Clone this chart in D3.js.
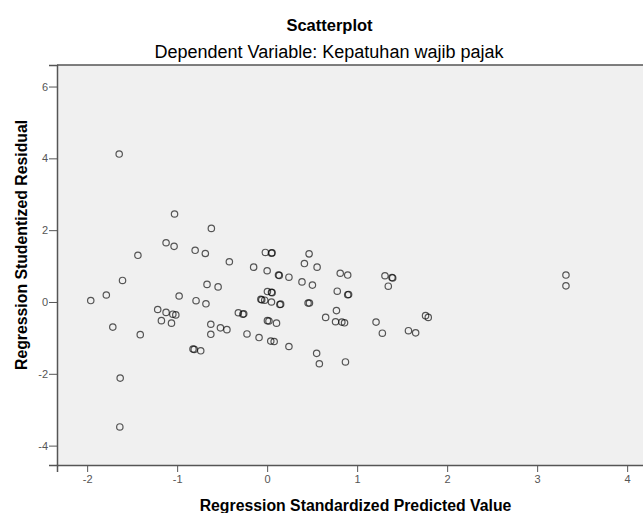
<!DOCTYPE html>
<html lang="en">
<head>
  <meta charset="UTF-8">
  <title>Scatterplot</title>
  <script src="https://cdn.jsdelivr.net/npm/d3@7"></script>
</head>
<style>
  :root {
    --text-color: #000000;
    --tick-color: #555555;
    --plot-bg: #F0F0F0;
  }

  body {
    margin: 0;
    background-color: #ffffff;
  }

  * {
    font-family: "Liberation Sans", Arial, sans-serif;
  }

  .axis text {
    font-size: 11px;
    fill: var(--tick-color);
  }

  .axis line, .axis path {
    stroke: #555555;
  }

  .axislabel {
    font-size: 15.8px;
    font-weight: bold;
    fill: var(--text-color);
  }

  .figuretitle {
    font-size: 16.5px;
    font-weight: bold;
    fill: var(--text-color);
  }

  .subtitle {
    font-size: 18px;
    fill: var(--text-color);
  }
</style>
<body>
  <div id="my_dataviz"></div>

  <script>
    // ## Data
    const predictedValues = [
      -1.644, -1.029, -0.620, -1.123, -1.034, -0.800, -0.687, -0.420, -0.150, -1.436,
      -1.607, -0.668, -0.545, -1.960, -1.787, -1.715, -1.410, -0.978, -0.790, -0.680,
      -1.216, -1.123, -1.048, -1.015, -1.175, -1.063, -0.626, -0.519, -0.447, -0.626,
      -0.224, -0.090, -0.320, -0.260, -0.270, -0.824, -0.810, -0.738, -1.633, -1.637,
      -0.020, 0.048, 0.055, 0.466, 0.414, 0.555, 0.000, 0.126, 0.135, 0.242,
      0.387, 0.503, 0.812, 0.895, 1.309, 1.387, 1.395, 1.346, 0.003, 0.048,
      0.055, 0.779, 0.895, 0.905, -0.070, -0.060, -0.027, 0.048, 0.141, 0.150,
      0.455, 0.470, 0.770, 0.650, 1.760, 1.790, 1.210, 0.760, 0.830, 0.860,
      1.280, 1.570, 1.650, 0.003, 0.020, 0.104, 0.040, 0.078, 0.242, 0.550,
      0.580, 0.870, 3.320, 3.320
    ];
    const residualValues = [
      4.12, 2.45, 2.05, 1.65, 1.55, 1.44, 1.35, 1.12, 0.97, 1.30,
      0.60, 0.49, 0.42, 0.04, 0.195, -0.70, -0.91, 0.167, 0.036, -0.05,
      -0.21, -0.29, -0.34, -0.36, -0.52, -0.59, -0.62, -0.72, -0.77, -0.90,
      -0.89, -0.99, -0.30, -0.33, -0.34, -1.31, -1.32, -1.36, -2.12, -3.48,
      1.38, 1.36, 1.37, 1.34, 1.07, 0.97, 0.87, 0.75, 0.74, 0.69,
      0.56, 0.47, 0.80, 0.75, 0.73, 0.68, 0.67, 0.44, 0.29, 0.27,
      0.26, 0.30, 0.20, 0.21, 0.075, 0.06, 0.05, 0.00, -0.07, -0.06,
      -0.03, -0.03, -0.24, -0.43, -0.38, -0.43, -0.56, -0.55, -0.56, -0.58,
      -0.87, -0.80, -0.86, -0.52, -0.53, -0.59, -1.09, -1.10, -1.24, -1.43,
      -1.72, -1.67, 0.75, 0.45
    ];
    const xTicks = [-2, -1, 0, 1, 2, 3, 4];
    const yTicks = [-4, -2, 0, 2, 4, 6];

    const chartTitle = "Scatterplot";
    const chartSubtitle = "Dependent Variable: Kepatuhan wajib pajak";
    const xTitle = "Regression Standardized Predicted Value";
    const yTitle = "Regression Studentized Residual";

    const dataset = predictedValues.map((x, i) => ({x: x, y: residualValues[i]}));

    function drawChart() {

      // ## Dimensions
      let dimensions = {
        width: 643,
        height: 513,
        margin: {top: 65, right: -8, bottom: 48, left: 57}
      }
      dimensions.boundedWidth = dimensions.width
        - dimensions.margin.left
        - dimensions.margin.right
      dimensions.boundedHeight = dimensions.height
        - dimensions.margin.top
        - dimensions.margin.bottom

      const svg = d3.select("#my_dataviz")
        .append("svg")
          .attr("width", dimensions.width)
          .attr("height", dimensions.height)
          .style("display", "block")

      const bounds = svg.append("g")
        .attr("transform", `translate(${dimensions.margin.left},${dimensions.margin.top})`)

      // ## Scales
      const xAccessor = d => d.x
      const yAccessor = d => d.y

      const xScale = d3.scaleLinear()
        .domain([-2.335, 4.265])
        .range([0, dimensions.boundedWidth])

      const yScale = d3.scaleLinear()
        .domain([-4.54, 6.6])
        .range([dimensions.boundedHeight, 0])

      // ## Peripherals
      bounds.append("rect")
        .attr("width", dimensions.boundedWidth)
        .attr("height", dimensions.boundedHeight)
        .attr("fill", "#F0F0F0")

      // top border
      bounds.append("line")
        .attr("x1", 0)
        .attr("x2", dimensions.boundedWidth)
        .attr("y1", 0)
        .attr("y2", 0)
        .attr("stroke", "#555555")
        .attr("stroke-width", 1.5)

      const xAxis = bounds.append("g")
        .attr("class", "axis")
        .attr("transform", `translate(0,${dimensions.boundedHeight})`)
        .call(d3.axisBottom(xScale)
          .tickValues(xTicks)
          .tickFormat(d => d.toString())
          .tickSizeOuter(0)
          .tickSize(7)
          .tickPadding(3))
        .call(g => g.select(".domain").attr("stroke-width", 1.5))

      const yAxis = bounds.append("g")
        .attr("class", "axis")
        .call(d3.axisLeft(yScale)
          .tickValues(yTicks)
          .tickFormat(d => d.toString())
          .tickSizeOuter(0)
          .tickSize(8)
          .tickPadding(1))
        .call(g => g.select(".domain").attr("stroke-width", 1.5))

      svg.append("text")
        .attr("class", "figuretitle")
        .attr("x", 329.5)
        .attr("y", 31)
        .attr("text-anchor", "middle")
        .text(chartTitle)

      svg.append("text")
        .attr("class", "subtitle")
        .attr("x", 329)
        .attr("y", 58)
        .attr("text-anchor", "middle")
        .text(chartSubtitle)

      svg.append("text")
        .attr("class", "axislabel")
        .attr("x", 355.5)
        .attr("y", 511)
        .attr("text-anchor", "middle")
        .text(xTitle)

      svg.append("text")
        .attr("class", "axislabel")
        .attr("transform", "translate(27,370) rotate(-90)")
        .attr("text-anchor", "start")
        .text(yTitle)

      // ## Points
      bounds.selectAll(".point")
        .data(dataset)
        .enter()
        .append("circle")
          .attr("class", "point")
          .attr("cx", d => xScale(xAccessor(d)))
          .attr("cy", d => yScale(yAccessor(d)))
          .attr("r", 3.2)
          .attr("fill", "none")
          .attr("stroke", "#000000")
          .attr("stroke-opacity", 0.65)
          .attr("stroke-width", 1.2)
    }

    drawChart()
  </script>
</body>
</html>
